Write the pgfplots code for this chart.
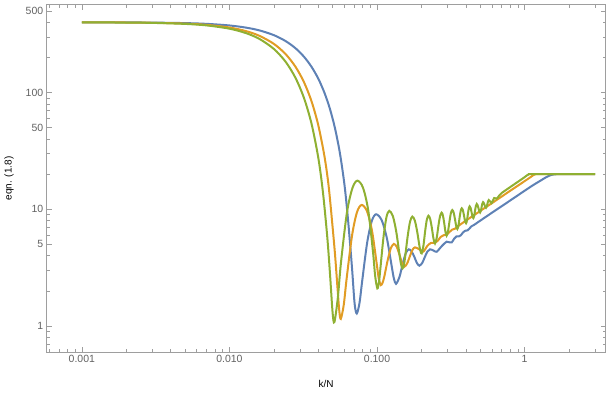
\documentclass[border=0pt]{standalone}
\usepackage{fontspec}
\setmainfont{Liberation Sans}
\usepackage{pgfplots}
\pgfplotsset{compat=1.18}

\definecolor{mblue}{rgb}{0.368417,0.506779,0.709798}
\definecolor{morange}{rgb}{0.880722,0.611041,0.142051}
\definecolor{mgreen}{rgb}{0.560181,0.691569,0.194885}
\definecolor{framegray}{gray}{0.62}
\definecolor{labelgray}{gray}{0.38}

\begin{document}
\begin{tikzpicture}
\begin{axis}[
    at={(0,0)}, anchor=south west,
    scale only axis,
    width=558.8bp, height=347.3bp,
    xmode=log, ymode=log,
    xmin=5.78e-4, xmax=3.53,
    ymin=0.599, ymax=566,
    axis line style={framegray, line width=0.8bp},
    tick style={framegray, line width=0.6bp},
    tick align=inside,
    major tick length=5bp,
    minor tick length=3bp,
    xtick={0.001,0.01,0.1,1},
    xticklabels={0.001,0.010,0.100,1},
    minor xtick={0.0006,0.0007,0.0008,0.0009,
        0.002,0.003,0.004,0.005,0.006,0.007,0.008,0.009,
        0.02,0.03,0.04,0.05,0.06,0.07,0.08,0.09,
        0.2,0.3,0.4,0.5,0.6,0.7,0.8,0.9,2,3},
    ytick={1,5,10,50,100,500},
    yticklabels={1,5,10,50,100,500},
    minor ytick={0.6,0.7,0.8,0.9,2,3,4,6,7,8,9,20,30,40,60,70,80,90,200,300,400},
    tick label style={font=\fontsize{10.5}{12}\selectfont, text=labelgray},
    xlabel={k/N},
    ylabel={eqn. (1.8)},
    label style={font=\fontsize{10.5}{12}\selectfont, text=labelgray},
    every axis x label/.style={at={(axis description cs:0.5,-0.092)}, anchor=center},
    every axis y label/.style={at={(axis description cs:-0.0675,0.5)}, anchor=center, rotate=90},
    clip=true,
]
% blue
\addplot[mblue, line width=2bp, smooth, tension=0.5] coordinates {
(0.001,399.8) (0.002,399.0) (0.003,397.8) (0.005,393.8) (0.007,388.0) (0.01,375.8)
(0.013,359.8) (0.016,340.7) (0.02,310.4) (0.024,276.3) (0.028,240.0) (0.032,202.7)
(0.036,166.1) (0.04,131.5) (0.044,99.8) (0.048,72.2) (0.052,48.9) (0.056,30.4)
(0.06,16.7) (0.063,9.29) (0.066,4.7) (0.068,2.9) (0.0705,1.55) (0.0729,1.28)
(0.0761,1.58) (0.0793,2.42) (0.0857,5.17) (0.0921,7.92) (0.0985,9.06) (0.1075,8.07)
(0.1165,5.68) (0.1255,3.29) (0.13,2.56) (0.1345,2.3) (0.1419,2.63) (0.1493,3.42)
(0.1566,4.21) (0.164,4.54) (0.1714,4.36) (0.1788,3.92) (0.1862,3.47) (0.1936,3.29)
(0.2024,3.47) (0.2111,3.92) (0.2199,4.36) (0.2286,4.54) (0.241,4.44) (0.2535,4.33)
(0.275,4.85) (0.296,5.28) (0.308,5.22) (0.3205,5.2) (0.333,5.6) (0.345,5.85)
(0.358,5.85) (0.37,6.0) (0.383,6.35) (0.396,6.55) (0.41,6.6) (0.423,6.85)
(0.436,7.15) (0.45,7.3) (0.5,7.99) (0.6,9.34) (0.7,10.64) (0.8,11.92) (0.9,13.18)
(1.0,14.42) (1.1,15.63) (1.2,16.75) (1.3,17.8) (1.4,18.85) (1.5,19.6) (1.6,19.95)
(1.7,20) (2,20) (3,20)
};
% orange
\addplot[morange, line width=2bp, smooth, tension=0.5] coordinates {
(0.001,399.6) (0.002,398.4) (0.003,396.3) (0.005,389.9) (0.007,380.4) (0.01,360.9)
(0.013,335.7) (0.016,305.9) (0.02,261.4) (0.024,213.8) (0.028,166.7) (0.032,122.7)
(0.036,84.1) (0.04,52.4) (0.044,28.6) (0.047,15.8) (0.05,7.03) (0.052,4.0)
(0.054,2.1) (0.0555,1.35) (0.0568,1.15) (0.0595,1.52) (0.0623,2.58) (0.0678,6.03)
(0.0732,9.47) (0.0787,10.9) (0.0855,9.63) (0.0924,6.57) (0.0992,3.51) (0.1026,2.57)
(0.106,2.24) (0.109,2.35) (0.112,2.65) (0.118,3.65) (0.124,4.64) (0.13,5.05)
(0.1358,4.78) (0.1415,4.14) (0.1473,3.49) (0.153,3.22) (0.16,3.44) (0.167,3.97)
(0.174,4.5) (0.181,4.72) (0.1938,4.53) (0.206,4.35) (0.219,4.85) (0.232,5.15)
(0.245,5.15) (0.257,5.35) (0.27,5.8) (0.283,6.0) (0.296,6.05) (0.31,6.4)
(0.323,6.7) (0.336,6.8) (0.35,7.1) (0.4,8.0)
(0.45,8.84) (0.5,9.67) (0.55,10.49) (0.6,11.29) (0.7,12.88) (0.8,14.43) (0.9,15.94)
(1.0,17.44) (1.1,18.9) (1.14,19.55) (1.175,19.9) (1.2,20) (2,20) (3,20)
};
% green
\addplot[mgreen, line width=2bp, smooth, tension=0.5] coordinates {
(0.001,399.5) (0.002,398.0) (0.003,395.5) (0.005,387.6) (0.007,376.3) (0.01,352.7)
(0.013,322.7) (0.016,287.7) (0.02,236.5) (0.024,183.9) (0.028,133.9) (0.032,89.8)
(0.036,54.0) (0.04,27.6) (0.043,14.0) (0.046,5.8) (0.048,2.8) (0.05,1.3) (0.0514,1.08)
(0.0542,1.73) (0.057,3.52) (0.0625,9.35) (0.0681,15.18) (0.0736,17.6) (0.0803,15.33)
(0.0871,9.85) (0.0938,4.37) (0.0971,2.69) (0.1005,2.1) (0.1031,2.39) (0.1056,3.21)
(0.1108,5.9) (0.1159,8.59) (0.121,9.7) (0.128,8.74) (0.135,6.41) (0.142,4.08)
(0.1455,3.37) (0.149,3.12) (0.1521,3.33) (0.1551,3.93) (0.1613,5.89) (0.1674,7.85)
(0.1735,8.66) (0.1803,8.01) (0.1871,6.43) (0.1938,4.84) (0.1972,4.36) (0.2006,4.19)
(0.2062,4.87) (0.2118,6.5) (0.2174,8.13) (0.223,8.81) (0.229,8.27) (0.235,6.96)
(0.241,5.64) (0.247,5.1) (0.2538,5.72) (0.2605,7.23) (0.2673,8.73) (0.274,9.35)
(0.2795,8.85) (0.285,7.65) (0.2905,6.45) (0.296,5.95) (0.3029,6.52) (0.3098,7.91)
(0.3166,9.29) (0.3235,9.86) (0.3301,9.41) (0.3368,8.32) (0.3434,7.23) (0.35,6.78)
(0.3563,7.28) (0.3625,8.49) (0.3688,9.7) (0.375,10.2) (0.3815,9.82) (0.388,8.9)
(0.3945,7.98) (0.401,7.6) (0.4068,8.04) (0.4125,9.1) (0.4183,10.16) (0.424,10.6)
(0.4303,10.28) (0.4365,9.5) (0.4428,8.72) (0.449,8.4) (0.4552,8.8) (0.4614,9.75)
(0.4675,10.7) (0.4737,11.1) (0.48,10.85) (0.4864,10.25) (0.4927,9.65) (0.499,9.4)
(0.505,9.71) (0.511,10.45) (0.517,11.19) (0.523,11.5) (0.529,11.32) (0.535,10.9)
(0.541,10.48) (0.547,10.3) (0.5533,10.55) (0.5595,11.15) (0.5658,11.75) (0.572,12.0)
(0.5845,11.65) (0.597,11.3) (0.6095,11.9) (0.622,12.5) (0.647,12.35) (0.672,13.1)
(0.7,13.8) (0.8,15.53) (0.9,17.2) (1.0,18.86) (1.04,19.6) (1.07,19.95) (1.1,20)
(2,20) (3,20)
};
\end{axis}
\pgfresetboundingbox
\path[use as bounding box] (-46.7bp,-42bp) rectangle (566.3bp,352bp);
\end{tikzpicture}
\end{document}
